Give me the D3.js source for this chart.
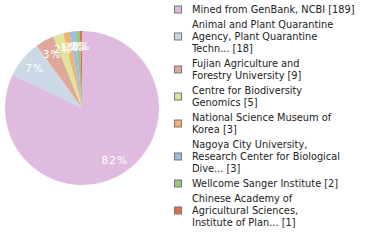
<!DOCTYPE html>
<html>
<head>
<meta charset="utf-8">
<script src="https://cdn.jsdelivr.net/npm/d3@7"></script>
<style>
  body { margin: 0; background: #fff; }
  svg { display: block; }
</style>
</head>
<body>
<div id="chart"></div>
<script>
// data
var labels = [
  ["Mined from GenBank, NCBI [189]"],
  ["Animal and Plant Quarantine", "Agency, Plant Quarantine", "Techn... [18]"],
  ["Fujian Agriculture and", "Forestry University [9]"],
  ["Centre for Biodiversity", "Genomics [5]"],
  ["National Science Museum of", "Korea [3]"],
  ["Nagoya City University,", "Research Center for Biological", "Dive... [3]"],
  ["Wellcome Sanger Institute [2]"],
  ["Chinese Academy of", "Agricultural Sciences,", "Institute of Plan... [1]"]
];
var counts = [189, 18, 9, 5, 3, 3, 2, 1];
var colors = ["#dfbcdf", "#cad9e5", "#e0a89b", "#dee49b", "#f2b16f", "#9ebde2", "#9cc77b", "#df6d55"];

var W = 380, H = 240;
var svg = d3.select("#chart").append("svg").attr("width", W).attr("height", H);

var total = d3.sum(counts);
var r = 77;
var g = svg.append("g").attr("transform", "translate(82,108)");

var pie = d3.pie().sort(null).value(function (d) { return d; });
var arc = d3.arc().innerRadius(0).outerRadius(r);
var labelArc = d3.arc().innerRadius(r * 0.8).outerRadius(r * 0.8);
var arcs = pie(counts);

g.selectAll("path").data(arcs).enter().append("path")
  .attr("d", arc)
  .attr("fill", function (d, i) { return colors[i]; });

g.selectAll("text").data(arcs).enter().append("text")
  .attr("transform", function (d) { return "translate(" + labelArc.centroid(d) + ")"; })
  .attr("text-anchor", "middle")
  .attr("dy", "0.35em")
  .attr("fill", "#fff")
  .style("font-family", "DejaVu Sans")
  .style("font-size", "10.5px")
  .style("letter-spacing", "1px")
  .text(function (d) { return Math.floor(d.data / total * 100) + "%"; });

// legend
var lineH = 12, gap = 15;
var leg = svg.append("g");
var y = 10;
labels.forEach(function (lines, i) {
  var first = y;
  lines.forEach(function (t, k) {
    leg.append("text")
      .attr("x", 192).attr("y", y + k * lineH)
      .attr("dy", "0.35em")
      .attr("fill", "#222")
      .style("font-family", "DejaVu Sans")
      .style("font-size", "9.8px")
      .text(t);
  });
  var last = y + (lines.length - 1) * lineH;
  var mid = (first + last) / 2;
  leg.append("rect")
    .attr("x", 174.5).attr("y", mid - 4)
    .attr("width", 7).attr("height", 7)
    .attr("fill", colors[i])
    .attr("stroke", "#777").attr("stroke-width", 1);
  y = last + gap;
});
</script>
</body>
</html>
